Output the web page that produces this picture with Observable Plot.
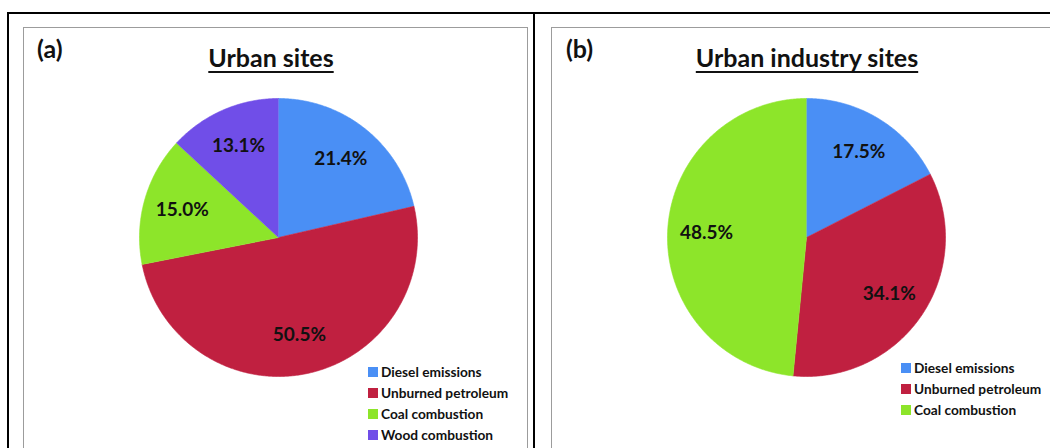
<!DOCTYPE html>
<html><head><meta charset="utf-8">
<script src="https://cdn.jsdelivr.net/npm/d3@7"></script>
<script src="https://cdn.jsdelivr.net/npm/@observablehq/plot@0.6"></script>
<style>
body{margin:0;background:#fff;font-family:Lato,"Open Sans",sans-serif;color:#111;}
#page{position:relative;width:1050px;height:448px;overflow:hidden;background:#fff;}
.bl{position:absolute;background:#000;}
.panel{position:absolute;border:1.5px solid #9c9c9c;box-sizing:border-box;}
.tag{position:absolute;font-weight:bold;font-size:25px;line-height:1;}
.title{position:absolute;font-weight:bold;font-size:25px;line-height:1;text-decoration:underline;text-underline-offset:4px;text-decoration-thickness:2px;transform:translateX(-50%);white-space:nowrap;}
.pie{position:absolute;}
.leg{position:absolute;}
.lg-swatch{height:21px;padding-bottom:0 !important;}
.lg-swatch svg{margin-right:3px !important;}
</style>
</head><body>
<div id="page"></div>
<script>
// ---- data ----
const panelTags = ["(a)", "(b)"];
const panelTitles = ["Urban sites", "Urban industry sites"];
const sourcesA = ["Diesel emissions", "Unburned petroleum", "Coal combustion", "Wood combustion"];
const valuesA = [21.4, 50.5, 15.0, 13.1];
const sourcesB = ["Diesel emissions", "Unburned petroleum", "Coal combustion"];
const valuesB = [17.5, 34.1, 48.5];
const sourceColors = ["#4a8ff5", "#c02040", "#8de52a", "#704ee8"];

// ---- layout ----
const R = 139, PAD = 2, LABEL_R = 0.72;
const page = document.getElementById("page");
function div(cls, css, text){
  const d = document.createElement("div");
  d.className = cls; Object.assign(d.style, css);
  if (text != null) d.textContent = text;
  page.appendChild(d); return d;
}
// outer black frame
div("bl", {left:"8px", top:"12px", width:"1042px", height:"2px"});
div("bl", {left:"7px", top:"12px", width:"2px", height:"436px"});
div("bl", {left:"533px", top:"12px", width:"2px", height:"436px"});
// gray panels
div("panel", {left:"23px", top:"27px", width:"505px", height:"440px"});
div("panel", {left:"551px", top:"27px", width:"520px", height:"440px"});

function slices(sources, values){
  const arcs = d3.pie().sort(null).value(d => d)(values);
  const pts = [];
  arcs.forEach((a, i) => {
    const n = Math.max(2, Math.ceil((a.endAngle - a.startAngle) / 0.01));
    pts.push({source: sources[i], x: 0, y: 0});
    for (let k = 0; k <= n; k++) {
      const t = a.startAngle + (a.endAngle - a.startAngle) * k / n;
      pts.push({source: sources[i], x: Math.sin(t), y: Math.cos(t)});
    }
  });
  const labels = arcs.map((a, i) => {
    const m = (a.startAngle + a.endAngle) / 2;
    return {x: LABEL_R * Math.sin(m), y: LABEL_R * Math.cos(m), text: values[i].toFixed(1) + "%"};
  });
  return {pts, labels};
}

const panels = [
  {tag: panelTags[0], title: panelTitles[0], sources: sourcesA, values: valuesA,
   tagX: 37, titleX: 271, cx: 278, cy: 237, legX: 368, legY: 361},
  {tag: panelTags[1], title: panelTitles[1], sources: sourcesB, values: valuesB,
   tagX: 566, titleX: 807, cx: 806, cy: 237, legX: 901, legY: 357}
];

panels.forEach(p => {
  div("tag", {left: p.tagX + "px", top: "36px"}, p.tag);
  div("title", {left: p.titleX + "px", top: "45px"}, p.title);
  const {pts, labels} = slices(p.sources, p.values);
  const colorScale = {domain: sourcesA, range: sourceColors};
  const chart = Plot.plot({
    width: 2 * R + 2 * PAD, height: 2 * R + 2 * PAD, margin: PAD,
    x: {domain: [-1, 1], axis: null},
    y: {domain: [-1, 1], axis: null},
    color: colorScale,
    style: {fontFamily: "Lato, sans-serif", background: "transparent", overflow: "visible"},
    marks: [
      Plot.line(pts, {x: "x", y: "y", z: "source", fill: "source", stroke: "source", strokeWidth: 0.6, curve: "linear"}),
      Plot.text(labels, {x: "x", y: "y", text: "text", fontSize: 19, fontWeight: "bold", fill: "#111"})
    ]
  });
  const holder = div("pie", {left: (p.cx - R - PAD) + "px", top: (p.cy - R - PAD) + "px"});
  holder.appendChild(chart);
  const leg = Plot.legend({
    color: {domain: p.sources, range: sourceColors.slice(0, p.sources.length)},
    legend: "swatches", columns: 1, swatchSize: 10, className: "lg",
    style: {fontFamily: "Lato, sans-serif", fontSize: "13.7px", fontWeight: "bold", color: "#111", margin: "0", width: "170px"}
  });
  const lh = div("leg", {left: p.legX + "px", top: p.legY + "px"});
  lh.appendChild(leg);
});
</script>
</body></html>
